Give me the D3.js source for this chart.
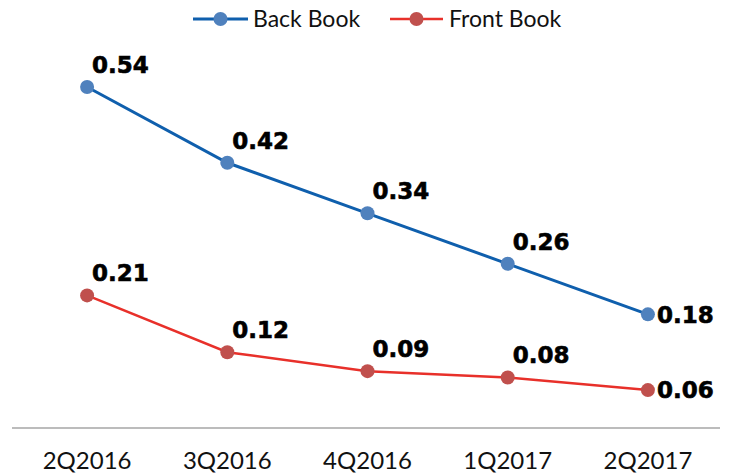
<!DOCTYPE html>
<html>
<head>
<meta charset="utf-8">
<script src="https://cdn.jsdelivr.net/npm/d3@7"></script>
<style>
  html, body { margin: 0; padding: 0; background: #fff; }
  svg { display: block; }
</style>
</head>
<body>
<svg id="chart" width="736" height="474"></svg>
<script>
const categories = ["2Q2016", "3Q2016", "4Q2016", "1Q2017", "2Q2017"];
const backBook = [0.54, 0.42, 0.34, 0.26, 0.18];
const frontBook = [0.21, 0.12, 0.09, 0.08, 0.06];
const seriesNames = ["Back Book", "Front Book"];

const svg = d3.select("#chart");

const x = d3.scaleBand().domain(categories).range([17, 718]).padding(0);
const y = d3.scaleLinear().domain([0, 0.6]).range([428, 49.1]);

const series = [
  { name: seriesNames[0], values: backBook, line: "#0F5FAD", marker: "#4F81BD", width: 3 },
  { name: seriesNames[1], values: frontBook, line: "#E8302A", marker: "#C0504D", width: 2.5 }
];

// x axis
const xAxis = d3.axisBottom(x).tickSize(0).tickPadding(0);
const gx = svg.append("g").attr("transform", "translate(0,428)").call(xAxis);
gx.select(".domain").attr("d", "M12,0H720").attr("stroke", "#A6A6A6").attr("stroke-width", 1.5);
gx.selectAll(".tick text")
  .attr("dy", 0)
  .attr("y", 41)
  .attr("font-family", "Lato, 'Noto Sans', sans-serif")
  .attr("font-size", 24)
  .attr("fill", "#111");

const cx = c => x(c) + x.bandwidth() / 2;

series.forEach(s => {
  const data = s.values.map((v, i) => ({ c: categories[i], v, i }));
  const line = d3.line().x(d => cx(d.c)).y(d => y(d.v));
  svg.append("path")
    .datum(data)
    .attr("d", line)
    .attr("fill", "none")
    .attr("stroke", s.line)
    .attr("stroke-width", s.width);
  svg.selectAll(null).data(data).enter().append("circle")
    .attr("cx", d => cx(d.c))
    .attr("cy", d => y(d.v))
    .attr("r", 7)
    .attr("fill", s.marker);
  svg.selectAll(null).data(data).enter().append("text")
    .attr("x", d => d.i === data.length - 1 ? cx(d.c) + 9 : cx(d.c) + 5)
    .attr("y", d => d.i === data.length - 1 ? y(d.v) : y(d.v) - 14)
    .attr("dy", d => d.i === data.length - 1 ? "0.36em" : 0)
    .attr("font-family", "'DejaVu Sans', sans-serif")
    .attr("font-weight", "bold")
    .attr("font-size", 23)
    .attr("stroke", "#000")
    .attr("stroke-width", 0.6)
    .attr("fill", "#000")
    .text(d => d3.format(".2f")(d.v));
});

// legend
const legendItems = [
  { s: series[0], x0: 193, x1: 248, tx: 253 },
  { s: series[1], x0: 390, x1: 443, tx: 449 }
];
const lg = svg.append("g");
legendItems.forEach(it => {
  lg.append("line")
    .attr("x1", it.x0).attr("x2", it.x1)
    .attr("y1", 19).attr("y2", 19)
    .attr("stroke", it.s.line).attr("stroke-width", it.s.width);
  lg.append("circle")
    .attr("cx", (it.x0 + it.x1) / 2).attr("cy", 19).attr("r", 7)
    .attr("fill", it.s.marker);
  lg.append("text")
    .attr("x", it.tx).attr("y", 19).attr("dy", "0.36em")
    .attr("font-family", "Lato, 'Noto Sans', sans-serif")
    .attr("font-size", 23)
    .attr("fill", "#111")
    .text(it.s.name);
});
</script>
</body>
</html>
